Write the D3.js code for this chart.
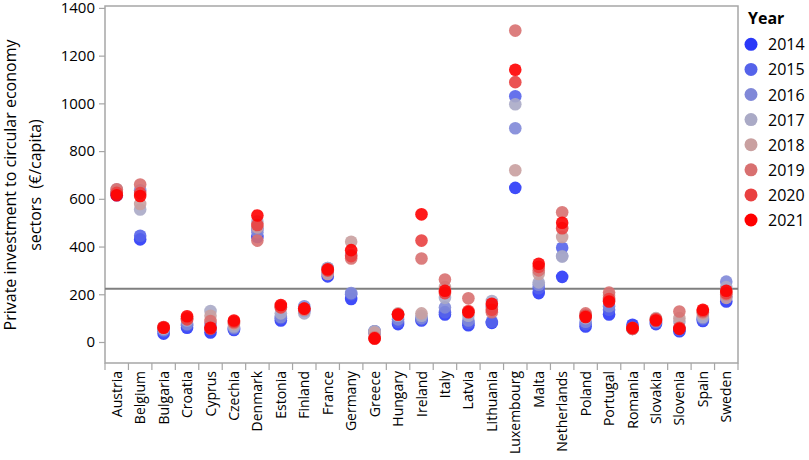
<!DOCTYPE html>
<html>
<head>
<meta charset="utf-8">
<script src="https://cdn.jsdelivr.net/npm/d3@7"></script>
<style>
  body { margin: 0; background: #fff; }
  text { font-family: "Open Sans", "Noto Sans", sans-serif; fill: #000; }
</style>
</head>
<body>
<script>
const countries = ['Austria', 'Belgium', 'Bulgaria', 'Croatia', 'Cyprus', 'Czechia', 'Denmark',
  'Estonia', 'Finland', 'France', 'Germany', 'Greece', 'Hungary', 'Ireland', 'Italy', 'Latvia',
  'Lithuania', 'Luxembourg', 'Malta', 'Netherlands', 'Poland', 'Portugal', 'Romania', 'Slovakia',
  'Slovenia', 'Spain', 'Sweden']

const years = ['2014', '2015', '2016', '2017', '2018', '2019', '2020', '2021']

// values per year, in the same order as countries (€/capita)
const v2014 = [615, 430, 35, 60, 40, 50, 440, 90, 130, 275, 180, 40, 75, 90, 115, 70, 80, 646, 205, 273, 65, 115, 72, 75, 45, 88, 170]
const v2015 = [620, 445, 45, 70, 60, 55, 475, 100, 140, 285, 200, 45, 85, 95, 125, 80, 85, 1030, 225, 395, 75, 135, 60, 80, 50, 95, 190]
const v2016 = [625, 636, 50, 75, 75, 60, 460, 105, 150, 310, 205, 45, 95, 100, 145, 90, 150, 896, 240, 360, 85, 150, 55, 85, 60, 100, 253]
const v2017 = [640, 555, 55, 90, 130, 65, 505, 120, 120, 310, 365, 45, 110, 110, 185, 110, 172, 996, 250, 358, 100, 175, 55, 90, 85, 105, 230]
const v2018 = [630, 578, 60, 100, 110, 75, 480, 145, 135, 285, 420, 40, 120, 120, 230, 125, 145, 720, 285, 440, 115, 195, 55, 100, 100, 118, 185]
const v2019 = [640, 660, 62, 100, 88, 80, 425, 150, 135, 300, 350, 20, 115, 350, 262, 183, 125, 1305, 300, 544, 120, 207, 55, 95, 128, 125, 200]
const v2020 = [625, 624, 63, 95, 55, 85, 490, 145, 140, 300, 360, 15, 115, 425, 205, 130, 135, 1089, 315, 477, 110, 180, 60, 95, 60, 130, 205]
const v2021 = [615, 612, 60, 108, 60, 90, 530, 155, 140, 305, 385, 15, 115, 535, 215, 125, 160, 1141, 328, 500, 105, 170, 58, 90, 55, 135, 215]

const meanValue = 223
const yTicks = [0, 200, 400, 600, 800, 1000, 1200, 1400]

const series = [v2014, v2015, v2016, v2017, v2018, v2019, v2020, v2021]
const colors = ['#2a38f8', '#5563ea', '#8088d8', '#aaaac6', '#c9a0a0', '#d87070', '#e94040', '#ff0000']

const width = 809
const height = 460
const margin = { left: 105, right: 71, top: 6, bottom: 97 }

const svg = d3.select('body').append('svg')
  .attr('width', width)
  .attr('height', height)

const x = d3.scaleBand()
  .domain(countries)
  .range([margin.left, width - margin.right])

const y = d3.scaleLinear()
  .domain([-88, 1408])
  .range([height - margin.bottom, margin.top])

// frame
svg.append('rect')
  .attr('x', margin.left)
  .attr('y', margin.top)
  .attr('width', width - margin.left - margin.right)
  .attr('height', height - margin.top - margin.bottom)
  .attr('fill', 'none')
  .attr('stroke', '#a6a6a6')
  .attr('stroke-width', 1.5)

// y axis
const yAxis = svg.append('g')
  .attr('transform', `translate(${margin.left},0)`)
  .call(d3.axisLeft(y).tickValues(yTicks).tickSize(6).tickPadding(4).tickFormat(d3.format('d')))
yAxis.select('.domain').remove()
yAxis.selectAll('line').attr('stroke', '#a6a6a6').attr('stroke-width', 1.2)
yAxis.selectAll('text').style('font-size', '15px')

// x axis, ticks at band edges
const xAxisY = height - margin.bottom
const xg = svg.append('g')
const edges = countries.map(c => x(c)).concat([x(countries[countries.length - 1]) + x.bandwidth()])
xg.selectAll('line')
  .data(edges)
  .join('line')
  .attr('x1', d => d)
  .attr('x2', d => d)
  .attr('y1', xAxisY)
  .attr('y2', xAxisY + 7)
  .attr('stroke', '#a6a6a6')
  .attr('stroke-width', 1.2)
xg.selectAll('text')
  .data(countries)
  .join('text')
  .attr('transform', d => `translate(${x(d) + x.bandwidth() / 2 + 5},${xAxisY + 8}) rotate(-90)`)
  .attr('text-anchor', 'end')
  .style('font-size', '14px')
  .text(d => d)

// y title
svg.append('text')
  .attr('transform', 'translate(16,185) rotate(-90)')
  .attr('text-anchor', 'middle')
  .style('font-size', '16px')
  .text('Private investment to circular economy')
svg.append('text')
  .attr('transform', 'translate(41,185) rotate(-90)')
  .attr('text-anchor', 'middle')
  .style('font-size', '16px')
  .style('white-space', 'pre')
  .text('sectors  (€/capita)')

// mean reference line
svg.append('line')
  .attr('x1', margin.left)
  .attr('x2', width - margin.right)
  .attr('y1', y(meanValue))
  .attr('y2', y(meanValue))
  .attr('stroke', '#7f7f7f')
  .attr('stroke-width', 2)

// dots
series.forEach((vals, i) => {
  svg.append('g')
    .selectAll('circle')
    .data(vals)
    .join('circle')
    .attr('cx', (d, j) => x(countries[j]) + x.bandwidth() / 2)
    .attr('cy', d => y(d))
    .attr('r', 6.3)
    .attr('fill', colors[i])
    .attr('fill-opacity', 0.9)
})

// legend
const legend = svg.append('g').attr('transform', 'translate(748,0)')
legend.append('text')
  .attr('x', 0)
  .attr('y', 24)
  .style('font-size', '16px')
  .style('font-weight', 'bold')
  .text('Year')
years.forEach((yr, i) => {
  legend.append('circle')
    .attr('cx', 3)
    .attr('cy', 44.3 + i * 25.1)
    .attr('r', 6.5)
    .attr('fill', colors[i])
  legend.append('text')
    .attr('x', 20)
    .attr('y', 44.3 + i * 25.1 + 6)
    .style('font-size', '16px')
    .text(yr)
})
</script>
</body>
</html>
